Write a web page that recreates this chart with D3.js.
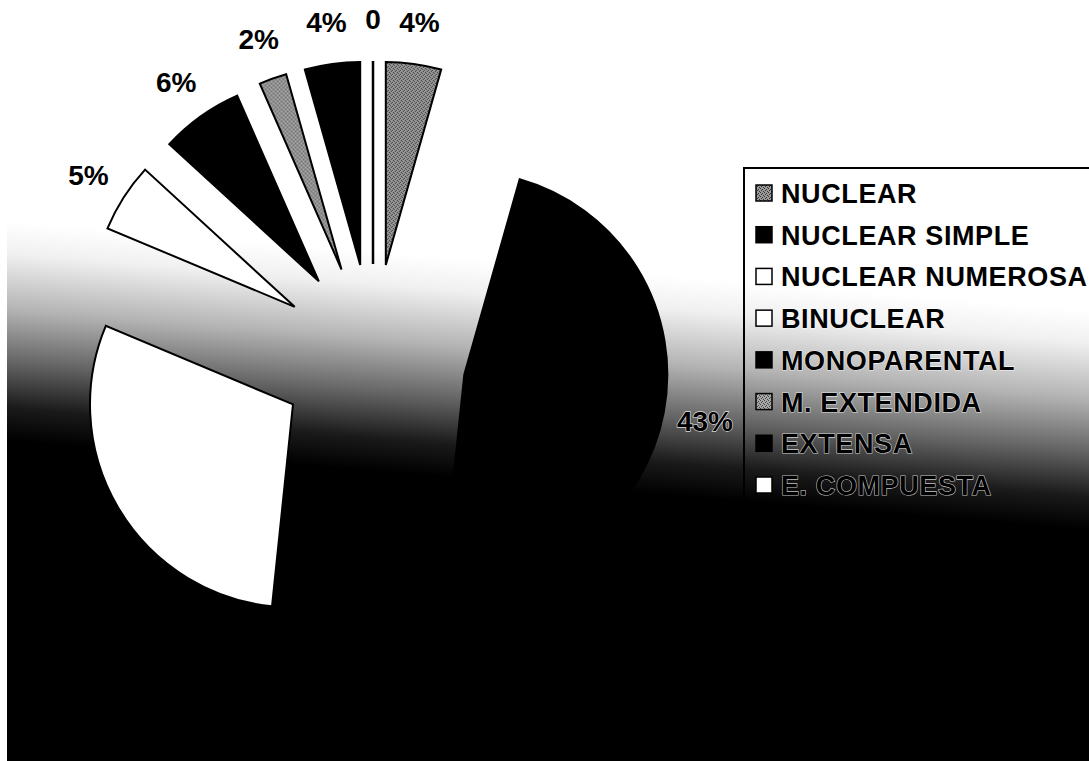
<!DOCTYPE html>
<html>
<head>
<meta charset="utf-8">
<script src="https://cdn.jsdelivr.net/npm/d3@7"></script>
<style>
  html, body { margin: 0; padding: 0; background: #fff; }
  svg { display: block; }
</style>
</head>
<body>
<div id="chart"></div>
<script>
// ---- data ----
const categories = ["NUCLEAR", "NUCLEAR SIMPLE", "NUCLEAR NUMEROSA", "BINUCLEAR",
                    "MONOPARENTAL", "M. EXTENDIDA", "EXTENSA", "E. COMPUESTA"];
const values = [4, 43, 27, 5, 6, 2, 4, 0];
const valueLabels = ["4%", "43%", null, "5%", "6%", "2%", "4%", "0"];

// ---- styles ----
const fills = ["url(#patNuclear)", "#000", "#fff", "#fff", "#000", "url(#patExt)", "#000", "#fff"];

const W = 1089, H = 761;
const cx = 373, cy = 357;       // pie centre
const radius = 203;
const explode = 93;
const labelRadius = 338;
const font = "'Liberation Sans', Arial, Helvetica, sans-serif";

const svg = d3.select("#chart").append("svg")
  .attr("width", W).attr("height", H);

const defs = svg.append("defs");

// background gradient (white top -> black bottom, slightly tilted)
const grad = defs.append("linearGradient")
  .attr("id", "bg").attr("gradientUnits", "userSpaceOnUse")
  .attr("x1", 20).attr("y1", 222).attr("x2", 2).attr("y2", 440);
[[0, "#ffffff"], [0.15, "#f0f0f0"], [0.4, "#b4b4b4"], [0.65, "#626262"], [0.85, "#1a1a1a"], [1, "#000000"]]
  .forEach(([o, c]) => grad.append("stop").attr("offset", o).attr("stop-color", c));

// speckled gray patterns
function speckle(id, base, dark) {
  const p = defs.append("pattern").attr("id", id)
    .attr("patternUnits", "userSpaceOnUse").attr("width", 4).attr("height", 4);
  p.append("rect").attr("width", 4).attr("height", 4).attr("fill", base);
  [[0, 0], [2, 1], [1, 2], [3, 3]].forEach(([x, y]) =>
    p.append("rect").attr("x", x).attr("y", y).attr("width", 1).attr("height", 1).attr("fill", dark));
}
speckle("patNuclear", "#9a9a9a", "#333");
speckle("patExt", "#a8a8a8", "#444");

// chart area with gradient
svg.append("rect")
  .attr("x", 7).attr("y", 0).attr("width", W - 7).attr("height", H)
  .attr("fill", "url(#bg)");

// ---- pie ----
const pie = d3.pie().value(d => d).sort(null);
const arcs = pie(values);
const arc = d3.arc().innerRadius(0).outerRadius(radius);

const g = svg.append("g").attr("transform", `translate(${cx},${cy})`);

arcs.forEach((a, i) => {
  const mid = (a.startAngle + a.endAngle) / 2;
  const dx = explode * Math.sin(mid), dy = -explode * Math.cos(mid);
  g.append("path")
    .attr("transform", `translate(${dx},${dy})`)
    .attr("d", arc(a))
    .attr("fill", fills[i])
    .attr("stroke", "#000")
    .attr("stroke-width", a.value === 0 ? 2.5 : 2)
    .attr("stroke-linejoin", "miter");
});

// value labels
arcs.forEach((a, i) => {
  if (!valueLabels[i]) return;
  const mid = (a.startAngle + a.endAngle) / 2;
  const x = labelRadius * Math.sin(mid), y = -labelRadius * Math.cos(mid);
  g.append("text")
    .attr("x", x).attr("y", y + 10)
    .attr("text-anchor", "middle")
    .attr("font-family", font).attr("font-weight", "bold").attr("font-size", 28)
    .attr("fill", "#000")
    .attr("stroke", "#fff").attr("stroke-width", 1.3).attr("stroke-opacity", 0.8)
    .attr("paint-order", "stroke")
    .text(valueLabels[i]);
});

// ---- legend ----
const lgX = 744, lgY = 168, lgBottom = 556;
svg.append("path")
  .attr("d", `M${W},${lgY} L${lgX},${lgY} L${lgX},${lgBottom}`)
  .attr("fill", "none").attr("stroke", "#000").attr("stroke-width", 2);

const rowY = d3.scalePoint().domain(categories).range([193, 485]);
const lg = svg.append("g");
categories.forEach((c, i) => {
  const y = rowY(c);
  lg.append("rect")
    .attr("x", 756).attr("y", y - 8).attr("width", 16).attr("height", 16)
    .attr("fill", fills[i]).attr("stroke", "#000").attr("stroke-width", 1.5);
  lg.append("text")
    .attr("x", 781).attr("y", y + 10)
    .attr("font-family", font).attr("font-weight", "bold").attr("font-size", 27)
    .attr("letter-spacing", 0.6)
    .attr("fill", "#000")
    .attr("stroke", "#fff").attr("stroke-width", 1.2).attr("stroke-opacity", 0.75)
    .attr("paint-order", "stroke")
    .text(c);
});
</script>
</body>
</html>
